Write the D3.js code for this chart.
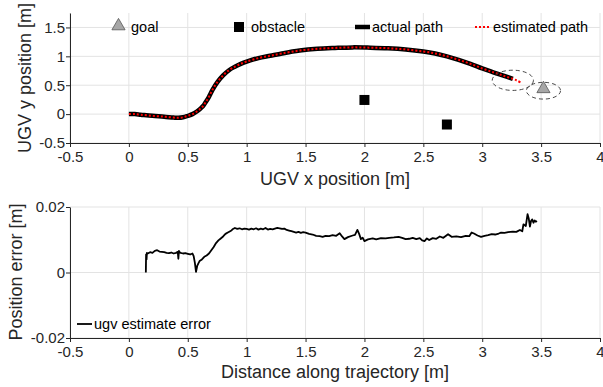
<!DOCTYPE html>
<html>
<head>
<meta charset="utf-8">
<script src="https://cdn.jsdelivr.net/npm/d3@7"></script>
<style>
  body { margin: 0; background: #fff; }
  text { font-family: "Liberation Sans", Arial, sans-serif; }
</style>
</head>
<body>
<svg id="chart" width="603" height="387"></svg>
<script>
// path of the UGV (x, y in m)
var pathX = [0, 0.05, 0.1, 0.2, 0.3, 0.38, 0.42, 0.46, 0.5, 0.54, 0.58, 0.61, 0.63, 0.65, 0.68, 0.71, 0.75, 0.8, 0.85, 0.9, 0.95, 1.0, 1.1, 1.2, 1.3, 1.45, 1.6, 1.75, 1.9, 2.05, 2.2, 2.35, 2.5, 2.6, 2.7, 2.8, 2.9, 3.0, 3.1, 3.18, 3.26];
var pathY = [0, 0.0, -0.01, -0.03, -0.045, -0.06, -0.064, -0.055, -0.03, 0.0, 0.05, 0.1, 0.14, 0.2, 0.3, 0.42, 0.55, 0.67, 0.76, 0.82, 0.87, 0.91, 0.97, 1.01, 1.05, 1.1, 1.13, 1.145, 1.155, 1.15, 1.14, 1.12, 1.085, 1.05, 1.0, 0.94, 0.87, 0.79, 0.72, 0.665, 0.61];
// estimate continues slightly further
var estTailX = [3.26, 3.3, 3.33];
var estTailY = [0.61, 0.575, 0.545];

var goal = [3.52, 0.42];
var obstaclesX = [2.0, 2.7];
var obstaclesY = [0.245, -0.18];
// dashed uncertainty circles (cx, cy, r in m)
var circlesX = [3.26, 3.52];
var circlesY = [0.585, 0.405];
var circlesR = [0.175, 0.145];

var legendTop = ["goal", "obstacle", "actual path", "estimated path"];

// position error vs distance along trajectory
var errDist = [0.144, 0.146, 0.15, 0.153, 0.16, 0.18, 0.2, 0.22, 0.24, 0.26, 0.28, 0.3, 0.32, 0.34, 0.36, 0.38, 0.4, 0.415, 0.42, 0.425, 0.43, 0.44, 0.46, 0.48, 0.5, 0.52, 0.54, 0.55, 0.56, 0.57, 0.58, 0.59, 0.6, 0.62, 0.64, 0.66, 0.68, 0.7, 0.72, 0.74, 0.76, 0.78, 0.8, 0.82, 0.84, 0.86, 0.87, 0.88, 0.9, 0.92, 0.94, 0.96, 0.98, 1.0, 1.02, 1.04, 1.06, 1.08, 1.1, 1.12, 1.14, 1.16, 1.18, 1.2, 1.22, 1.24, 1.26, 1.28, 1.3, 1.32, 1.34, 1.36, 1.38, 1.4, 1.42, 1.44, 1.46, 1.48, 1.5, 1.53, 1.56, 1.59, 1.62, 1.645, 1.67, 1.7, 1.73, 1.76, 1.79, 1.81, 1.83, 1.86, 1.9, 1.92, 1.94, 1.955, 1.97, 1.985, 2.0, 2.03, 2.07, 2.1, 2.14, 2.18, 2.21, 2.25, 2.29, 2.32, 2.35, 2.38, 2.41, 2.44, 2.47, 2.49, 2.51, 2.53, 2.55, 2.58, 2.61, 2.64, 2.67, 2.71, 2.74, 2.78, 2.82, 2.86, 2.89, 2.91, 2.93, 2.96, 2.99, 3.02, 3.05, 3.08, 3.11, 3.14, 3.16, 3.19, 3.22, 3.26, 3.29, 3.32, 3.34, 3.35, 3.37, 3.385, 3.395, 3.405, 3.415, 3.425, 3.435, 3.445, 3.455, 3.465];
var errVal = [0.0, 0.0055, 0.004, 0.006, 0.0058, 0.0062, 0.006, 0.0066, 0.0068, 0.0064, 0.0063, 0.0062, 0.006, 0.0059, 0.0061, 0.0058, 0.006, 0.0063, 0.0042, 0.0066, 0.0062, 0.006, 0.0058, 0.0059, 0.0057, 0.0055, 0.0058, 0.005, 0.003, 0.0002, 0.002, 0.0028, 0.0035, 0.004, 0.0048, 0.0052, 0.0058, 0.0068, 0.0078, 0.009, 0.0098, 0.0104, 0.011, 0.0118, 0.0122, 0.0126, 0.0128, 0.0132, 0.0136, 0.0133, 0.0135, 0.0132, 0.0134, 0.0133, 0.0131, 0.0134, 0.0132, 0.0135, 0.0131, 0.0134, 0.0132, 0.0136, 0.0131, 0.0133, 0.0132, 0.0134, 0.0136, 0.0135, 0.0133, 0.0134, 0.013, 0.0128, 0.0126, 0.0124, 0.0122, 0.0124, 0.0121, 0.0123, 0.0122, 0.0118, 0.0116, 0.0112, 0.0111, 0.0109, 0.0112, 0.0111, 0.0114, 0.0112, 0.012, 0.011, 0.0102, 0.0108, 0.0113, 0.0115, 0.013, 0.0118, 0.0102, 0.0106, 0.0096, 0.0101, 0.0104, 0.0101, 0.0105, 0.0104, 0.0106, 0.0107, 0.0109, 0.0106, 0.0102, 0.0103, 0.0106, 0.0102, 0.0105, 0.0098, 0.0096, 0.0104, 0.0099, 0.0105, 0.0103, 0.011, 0.0106, 0.0117, 0.0109, 0.011, 0.0108, 0.0112, 0.0111, 0.0122, 0.0119, 0.0113, 0.0109, 0.0112, 0.0114, 0.0117, 0.0116, 0.0119, 0.0122, 0.0121, 0.0123, 0.0125, 0.0124, 0.013, 0.0126, 0.0147, 0.0142, 0.0178, 0.0165, 0.014, 0.0158, 0.0162, 0.0152, 0.0159, 0.0155, 0.0157];
var legendBottom = "ugv estimate error";

var svg = d3.select("#chart");
var gridCol = "#e3e3e3", axCol = "#262626";

var x = d3.scaleLinear().domain([-0.5, 4]).range([70, 600]);
var y1 = d3.scaleLinear().domain([-0.5, 1.75]).range([143, 13]);
var y2 = d3.scaleLinear().domain([-0.02, 0.02]).range([338, 207]);
var xTicks = [-0.5, 0, 0.5, 1, 1.5, 2, 2.5, 3, 3.5, 4];

function drawAxes(y, yTicks, yFmt, bottom) {
  var top = y.range()[1];
  // grid
  svg.append("g").selectAll("line").data(xTicks).join("line")
    .attr("x1", d => x(d)).attr("x2", d => x(d))
    .attr("y1", top).attr("y2", bottom)
    .attr("stroke", gridCol).attr("stroke-width", 1);
  svg.append("g").selectAll("line").data(yTicks).join("line")
    .attr("x1", 70).attr("x2", 600)
    .attr("y1", d => y(d)).attr("y2", d => y(d))
    .attr("stroke", gridCol).attr("stroke-width", 1);

  var gx = svg.append("g").attr("transform", "translate(0," + bottom + ")")
    .call(d3.axisBottom(x).tickValues(xTicks).tickSize(4).tickSizeOuter(0)
      .tickFormat(d => String(d)));
  var gy = svg.append("g").attr("transform", "translate(70,0)")
    .call(d3.axisLeft(y).tickValues(yTicks).tickSize(4).tickSizeOuter(0).tickFormat(yFmt));
  [gx, gy].forEach(function(g) {
    g.select(".domain").attr("stroke", axCol);
    g.selectAll(".tick line").attr("stroke", axCol);
    g.selectAll(".tick text").attr("fill", axCol).style("font-size", "15px");
  });
  gx.selectAll(".tick text").attr("y", 19).attr("dy", 0);
  gy.selectAll(".tick text").attr("x", -5);
  return gx;
}

// ---------- top plot ----------
drawAxes(y1, [-0.5, 0, 0.5, 1, 1.5], d => String(d), 143);

var line1 = d3.line().x(d => x(d[0])).y(d => y1(d[1])).curve(d3.curveCatmullRom);
var actual = pathX.map((v, i) => [v, pathY[i]]);
var estimated = actual.concat(estTailX.slice(1).map((v, i) => [v, estTailY[i + 1]]));

svg.append("path").datum(actual).attr("d", line1)
  .attr("fill", "none").attr("stroke", "#000").attr("stroke-width", 4.5);
svg.append("path").datum(estimated).attr("d", line1)
  .attr("fill", "none").attr("stroke", "#ff0000").attr("stroke-width", 2)
  .attr("stroke-dasharray", "2,2");

svg.selectAll(".obst").data(obstaclesX).join("rect")
  .attr("x", (d, i) => x(d) - 5).attr("y", (d, i) => y1(obstaclesY[i]) - 5)
  .attr("width", 10).attr("height", 10).attr("fill", "#000");

var tri = d3.symbol().type(d3.symbolTriangle).size(75);
svg.append("path").attr("d", tri)
  .attr("transform", "translate(" + x(goal[0]) + "," + (y1(goal[1]) - 1) + ")")
  .attr("fill", "#a6a6a6").attr("stroke", "#555").attr("stroke-width", 0.8);

svg.selectAll(".circ").data(circlesX).join("ellipse")
  .attr("cx", d => x(d)).attr("cy", (d, i) => y1(circlesY[i]))
  .attr("rx", (d, i) => x(d + circlesR[i]) - x(d))
  .attr("ry", (d, i) => y1(0) - y1(circlesR[i]))
  .attr("fill", "none").attr("stroke", "#333").attr("stroke-width", 0.9)
  .attr("stroke-dasharray", "4,3");

// legend top
var ly = 27;
svg.append("path").attr("d", tri).attr("transform", "translate(118.5," + (ly - 1) + ")")
  .attr("fill", "#a6a6a6").attr("stroke", "#555").attr("stroke-width", 0.8);
svg.append("rect").attr("x", 234).attr("y", ly - 5).attr("width", 10).attr("height", 10).attr("fill", "#000");
svg.append("line").attr("x1", 355).attr("x2", 370).attr("y1", ly).attr("y2", ly)
  .attr("stroke", "#000").attr("stroke-width", 4.5);
svg.append("line").attr("x1", 475).attr("x2", 491).attr("y1", ly).attr("y2", ly)
  .attr("stroke", "#ff0000").attr("stroke-width", 2).attr("stroke-dasharray", "2,2");
var legX = [131, 251, 372, 493];
svg.selectAll(".legt").data(legendTop).join("text")
  .attr("x", (d, i) => legX[i]).attr("y", ly).attr("dy", "0.35em")
  .style("font-size", "14.5px").attr("fill", "#000").text(d => d);

svg.append("text").attr("x", 335).attr("y", 185).attr("text-anchor", "middle")
  .style("font-size", "18px").attr("fill", axCol).text("UGV x position [m]");
svg.append("text").attr("transform", "translate(31,78) rotate(-90)").attr("text-anchor", "middle")
  .style("font-size", "18px").attr("fill", axCol).text("UGV y position [m]");

// ---------- bottom plot ----------
drawAxes(y2, [-0.02, 0, 0.02], d => d === 0 ? "0" : d.toFixed(2), 338);

var line2 = d3.line().x(d => x(d[0])).y(d => y2(d[1]));
svg.append("path").datum(errDist.map((v, i) => [v, errVal[i]])).attr("d", line2)
  .attr("fill", "none").attr("stroke", "#000").attr("stroke-width", 1.8)
  .attr("stroke-linejoin", "round");

svg.append("line").attr("x1", 77).attr("x2", 92).attr("y1", 324).attr("y2", 324)
  .attr("stroke", "#000").attr("stroke-width", 1.8);
svg.append("text").attr("x", 94).attr("y", 324).attr("dy", "0.35em")
  .style("font-size", "14.5px").attr("fill", "#000").text(legendBottom);

svg.append("text").attr("x", 335).attr("y", 378).attr("text-anchor", "middle")
  .style("font-size", "18px").attr("fill", axCol).text("Distance along trajectory [m]");
svg.append("text").attr("transform", "translate(22,272) rotate(-90)").attr("text-anchor", "middle")
  .style("font-size", "18px").attr("fill", axCol).text("Position error [m]");
</script>
</body>
</html>
